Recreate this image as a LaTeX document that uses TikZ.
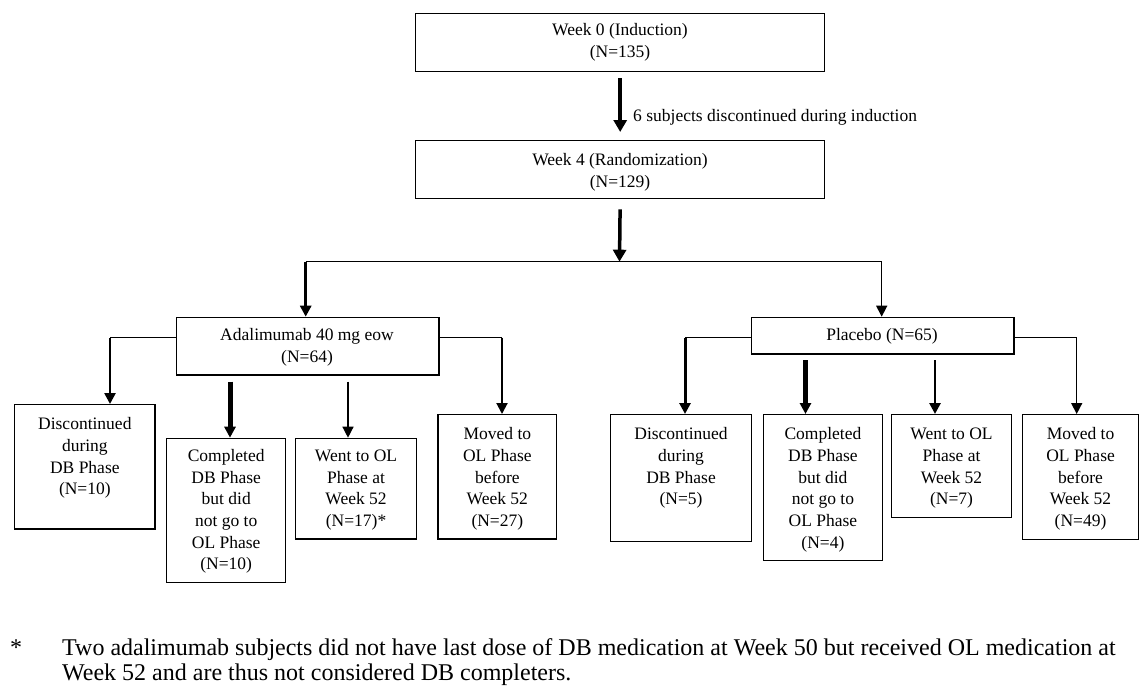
\documentclass[tikz,border=0pt]{standalone}
\usepackage{fontspec}
\setmainfont{Liberation Serif}
\usetikzlibrary{arrows.meta}
\tikzset{
  box/.style={draw, line width=1.4pt, inner sep=0pt, anchor=north west},
  txt/.style={inner sep=0pt, align=center, font=\fontsize{17.5}{21.7}\selectfont},
  conn/.style={line width=1.3pt},
  arr/.style={line width=#1, -{Triangle[width=11pt,length=11pt]}},
  bigarr/.style={line width=#1, -{Triangle[width=13pt,length=12pt]}},
}
\begin{document}
\begin{tikzpicture}[x=1pt,y=-1pt]
\useasboundingbox (0,0) rectangle (1139,685);
% top boxes
\node[box, minimum width=409pt, minimum height=58pt] (w0) at (415,12.7) {};
\node[txt] (w0t) at (620,42.5) {Week 0 (Induction)\\(N=135)};
\node[box, minimum width=409pt, minimum height=58pt] (w4) at (415,140) {};
\node[txt] (w4t) at (620,172.5) {Week 4 (Randomization)\\(N=129)};
\draw[bigarr=4pt, shorten <=6pt, shorten >=8pt] (w0.south) -- (w4.north);
\node[txt, anchor=west] (disc) at (633,117) {6 subjects discontinued during induction};
% split
\coordinate (split) at (619.5,261.7);
\coordinate (lft) at (305.7,261.7);
\coordinate (rgt) at (881.7,261.7);
\draw[bigarr=3.5pt, shorten <=10pt] (w4.south) -- (split);
\draw[conn] (lft) -- (rgt);
% arms
\node[box, minimum width=262.6pt, minimum height=57.6pt] (adal) at (175.7,316.7) {};
\node[txt] (adalt) at (307,347.3) {Adalimumab 40 mg eow\\(N=64)};
\node[box, minimum width=262.6pt, minimum height=36.6pt] (plac) at (750.7,316.7) {};
\node[txt] (plact) at (882,336.7) {Placebo (N=65)};
\draw[arr=2.7pt] (lft) -- (lft |- adal.north);
\draw[arr=1.5pt] (rgt) -- (rgt |- plac.north);
% adalimumab children
\node[box, minimum width=140.3pt, minimum height=124.3pt] (ad1) at (14,404) {};
\node[box, minimum width=119pt, minimum height=144pt] (ad2) at (166,437.7) {};
\node[box, minimum width=120.7pt, minimum height=100.6pt] (ad3) at (295,437.7) {};
\node[box, minimum width=118.7pt, minimum height=124.3pt] (ad4) at (437.3,414) {};
\node[txt, anchor=north] (ad1t) at ([yshift=-10.4pt]ad1.north) {\strut Discontinued\\during\\DB Phase\\(N=10)};
\node[txt, anchor=north] (ad2t) at ([yshift=-8.4pt]ad2.north) {\strut Completed\\DB Phase\\but did\\not go to\\OL Phase\\(N=10)};
\node[txt, anchor=north] (ad3t) at ([yshift=-8.4pt]ad3.north) {\strut Went to OL\\Phase at\\Week 52\\(N=17)*};
\node[txt, anchor=north] (ad4t) at ([yshift=-10.4pt]ad4.north) {\strut Moved to\\OL Phase\\before\\Week 52\\(N=27)};
% placebo children
\node[box, minimum width=140.7pt, minimum height=126.7pt] (pl1) at (610,414) {};
\node[box, minimum width=119pt, minimum height=146pt] (pl2) at (762.7,414) {};
\node[box, minimum width=119.7pt, minimum height=102.7pt] (pl3) at (891,414) {};
\node[box, minimum width=116.3pt, minimum height=125pt] (pl4) at (1021.7,414) {};
\node[txt, anchor=north] (pl1t) at ([yshift=-10.4pt]pl1.north) {\strut Discontinued\\during\\DB Phase\\(N=5)};
\node[txt, anchor=north] (pl2t) at ([yshift=-10.4pt]pl2.north) {\strut Completed\\DB Phase\\but did\\not go to\\OL Phase\\(N=4)};
\node[txt, anchor=north] (pl3t) at ([yshift=-10.4pt]pl3.north) {\strut Went to OL\\Phase at\\Week 52\\(N=7)};
\node[txt, anchor=north] (pl4t) at ([yshift=-10.4pt]pl4.north) {\strut Moved to\\OL Phase\\before\\Week 52\\(N=49)};
% adalimumab connectors
\coordinate (al) at (110,337.7);
\coordinate (ar) at (502,337.7);
\coordinate (ai1) at (230,381.7);
\coordinate (ai2) at (348,381.7);
\draw[conn] (adal.west |- al) -- (al);
\draw[conn] (adal.east |- ar) -- (ar);
\draw[arr=2.5pt] (al) -- (al |- ad1.north);
\draw[arr=5pt] (ai1) -- (ai1 |- ad2.north);
\draw[arr=1.3pt] (ai2) -- (ai2 |- ad3.north);
\draw[arr=2pt] (ar) -- (ar |- ad4.north);
% placebo connectors
\coordinate (pl) at (685,337.7);
\coordinate (pr) at (1076.7,337.7);
\coordinate (pi1) at (805.5,360);
\coordinate (pi2) at (935,360);
\draw[conn] (plac.west |- pl) -- (pl);
\draw[conn] (plac.east |- pr) -- (pr);
\draw[arr=3pt] (pl) -- (pl |- pl1.north);
\draw[arr=4.5pt] (pi1) -- (pi1 |- pl2.north);
\draw[arr=2.7pt] (pi2) -- (pi2 |- pl3.north);
\draw[arr=1.5pt] (pr) -- (pr |- pl4.north);
% footnote
\node[inner sep=0pt, anchor=base west, font=\fontsize{24}{25}\selectfont] (star) at (10,655) {*};
\node[inner sep=0pt, anchor=north west, align=left, font=\fontsize{24}{25}\selectfont] (fn) at (62,637.5) {\strut Two adalimumab subjects did not have last dose of DB medication at Week 50 but received OL medication at\\Week 52 and are thus not considered DB completers.};
\end{tikzpicture}
\end{document}
